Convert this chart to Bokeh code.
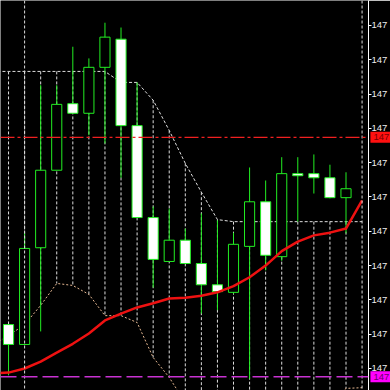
from bokeh.plotting import figure
from bokeh.models import Range1d, FixedTicker, PrintfTickFormatter, Span, ColumnDataSource
from bokeh.core.properties import value
from bokeh.embed import file_html
from bokeh.resources import INLINE

# ---- data ----
bars = list(range(22))
open_ = [147.064, 147.035, 147.176, 147.289, 147.386, 147.372, 147.439, 147.480, 147.354, 147.220, 147.156,
         147.187, 147.153, 147.122, 147.111, 147.178, 147.243, 147.163, 147.284, 147.284, 147.278, 147.249]
high = [147.064, 147.197, 147.413, 147.413, 147.469, 147.452, 147.504, 147.497, 147.417, 147.236, 147.233,
        147.204, 147.226, 147.216, 147.198, 147.293, 147.274, 147.308, 147.308, 147.312, 147.297, 147.286]
low = [146.990, 147.035, 147.054, 147.289, 147.372, 147.340, 147.328, 147.278, 147.220, 147.118, 147.156,
       147.153, 147.080, 147.085, 147.109, 146.985, 147.143, 147.157, 147.214, 147.255, 147.248, 147.197]
close = [147.035, 147.175, 147.289, 147.385, 147.372, 147.439, 147.483, 147.354, 147.220, 147.159, 147.187,
         147.153, 147.122, 147.112, 147.181, 147.243, 147.165, 147.284, 147.281, 147.278, 147.249, 147.262]

line_bars = list(range(-1, 23))
ma = [146.993, 146.994, 147.000, 147.010, 147.023, 147.036, 147.051, 147.070, 147.080, 147.089, 147.095, 147.102,
      147.103, 147.106, 147.111, 147.120, 147.133, 147.150, 147.171, 147.185, 147.194, 147.198, 147.204, 147.245]
upper = [147.433, 147.433, 147.433, 147.433, 147.433, 147.433, 147.433, 147.433, 147.417, 147.417, 147.391, 147.347,
         147.299, 147.257, 147.217, 147.214, 147.214, 147.214, 147.214, 147.214, 147.214, 147.214, 147.214, 147.214]
lower = [147.034, 147.048, 147.064, 147.092, 147.124, 147.121, 147.108, 147.077, 147.077, 147.067, 147.016, 146.987,
         146.950, 146.950, 146.950, 146.950, 146.950, 146.950, 146.950, 146.950, 146.950, 146.950, 146.971, 146.972]
separator_bars = [1, 22]
red_level = 147.337
magenta_level = 146.988
tick_values = [147.00, 147.05, 147.10, 147.15, 147.20, 147.25, 147.30, 147.35, 147.40, 147.45, 147.50]

# ---- derived sources ----
GREEN = "#22ee22"
FONT = "Liberation Sans"
bull = [c >= o for o, c in zip(open_, close)]
candles = ColumnDataSource(dict(
    x=bars, high=high, low=low,
    top=[max(o, c) for o, c in zip(open_, close)],
    bottom=[min(o, c) for o, c in zip(open_, close)],
    fill=["black" if b else "white" for b in bull],
))
y_lo, y_hi = 146.9679, 147.5364
x_lo, x_hi = -0.5, 22.4
hist = ColumnDataSource(dict(
    x=line_bars[1:23],
    y0=upper[1:23],
    y1=[max(v, y_lo) for v in lower[1:23]],
))
tag_h = 0.0080
tags = ColumnDataSource(dict(
    level=[red_level, magenta_level],
    top=[red_level + tag_h, magenta_level + tag_h],
    bottom=[red_level - tag_h, magenta_level - tag_h],
    left=[x_hi + 0.12, x_hi + 0.12],
    right=[x_hi + 3.0, x_hi + 3.0],
    x=[x_hi, x_hi],
    fill=["#ff1010", "#ff00ff"],
    tcol=["#780000", "#6a006a"],
    text=["147", "147"],
))

p = figure(width=390, height=390, output_backend="svg", toolbar_location=None,
           x_axis_location=None, y_axis_location="right",
           x_range=Range1d(x_lo, x_hi), y_range=Range1d(y_lo, y_hi),
           min_border=0, min_border_right=0, min_border_left=0, min_border_top=0, min_border_bottom=0)
p.background_fill_color = "black"
p.border_fill_color = "black"
p.outline_line_color = None
p.xgrid.visible = False
p.ygrid.visible = False

ax = p.yaxis[0]
ax.ticker = FixedTicker(ticks=tick_values)
ax.formatter = PrintfTickFormatter(format="%d")
ax.axis_line_color = "white"
ax.major_tick_line_color = "white"
ax.major_tick_out = 3
ax.major_tick_in = 0
ax.minor_tick_line_color = None
ax.major_label_standoff = 0
ax.major_label_text_color = "#eeeeee"
ax.major_label_text_font = FONT
ax.major_label_text_font_size = "9.5px"

# histogram-like dotted verticals between bands
p.segment(x0="x", y0="y0", x1="x", y1="y1", source=hist, line_color="#dddddd", line_width=1, line_dash="3 2")
for b in separator_bars:
    p.add_layout(Span(location=b, dimension="height", line_color="#dddddd", line_width=1, line_dash="3 2"))

# bands
p.line(line_bars, upper, line_color="#dddddd", line_width=1, line_dash="3 2")
p.line(line_bars, lower, line_color="#e6b892", line_width=1, line_dash="2 2")

# horizontal levels
p.add_layout(Span(location=red_level, dimension="width", line_color="#f02020", line_width=1.3, line_dash="14 3 3 3"))
p.add_layout(Span(location=magenta_level, dimension="width", line_color="#c832d2", line_width=1.5, line_dash="16 5"))

# candles
p.segment(x0="x", y0="high", x1="x", y1="low", source=candles, line_color=GREEN, line_width=1)
p.vbar(x="x", width=0.63, top="top", bottom="bottom", source=candles, fill_color="fill", line_color=GREEN, line_width=1)

# moving average
p.line(line_bars, ma, line_color="#ee1111", line_width=2.5)

# price tags on the right scale
p.quad(left="left", right="right", top="top", bottom="bottom", source=tags, fill_color="fill",
       line_color=None, level="overlay")
p.text(x="x", y="level", text="text", source=tags, text_color="tcol", text_align="left",
       text_baseline="middle", x_offset=5, text_font=value(FONT), text_font_size="9.5px", level="overlay")

open("out.html", "w").write(file_html(p, INLINE))
